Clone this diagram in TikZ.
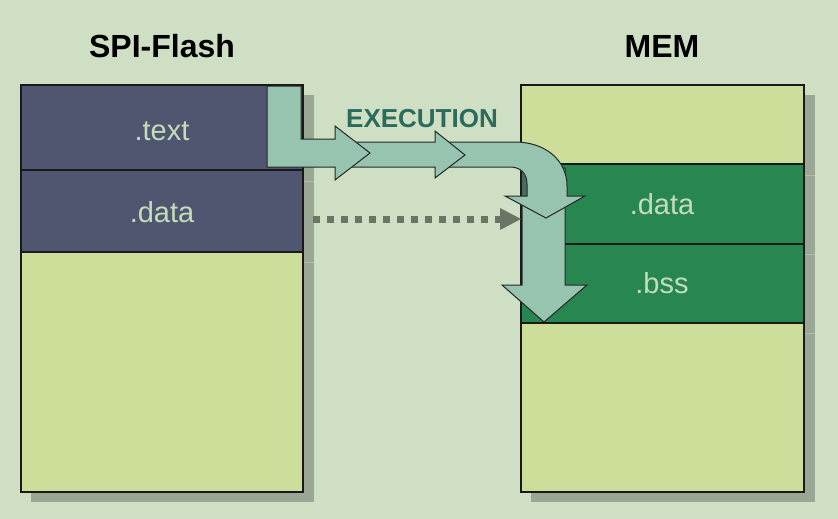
\documentclass[tikz,border=0pt]{standalone}
\usepackage{fontspec}
\setmainfont{Liberation Sans}
\definecolor{bgc}{RGB}{207,223,196}
\definecolor{shadowc}{RGB}{154,167,148}
\definecolor{shadowline}{RGB}{178,190,170}
\definecolor{bluec}{RGB}{80,86,112}
\definecolor{lgc}{RGB}{205,222,154}
\definecolor{dgc}{RGB}{40,134,80}
\definecolor{arrowc}{RGB}{150,196,174}
\definecolor{sidec}{RGB}{70,110,90}
\definecolor{labelc}{RGB}{196,221,185}
\definecolor{execc}{RGB}{44,106,94}
\definecolor{dotc}{RGB}{106,117,101}
\begin{document}
\begin{tikzpicture}[x=1pt,y=-1pt,
  box/.style={draw=black!90, line width=1.2pt, inner sep=0pt, outer sep=0pt, anchor=north west},
  lbl/.style={text=labelc, font=\fontsize{29}{29}\selectfont, anchor=base, inner sep=0pt},
  ttl/.style={font=\bfseries\fontsize{32}{32}\selectfont, anchor=base, inner sep=0pt},
  bigarrow/.style={fill=arrowc, draw=black!85, line width=1pt, line join=miter}]
\useasboundingbox (0,0) rectangle (838,519);
\fill[bgc] (0,0) rectangle (838,519);
% shadows
\fill[shadowc] (31,95) rectangle (314,502);
\fill[shadowc] (531,95) rectangle (815,502);
\foreach \yy in {181,262}{\draw[shadowline, line width=1pt] (304,\yy) -- (314,\yy);}
\foreach \yy in {175,254,333}{\draw[shadowline, line width=1pt] (805,\yy) -- (815,\yy);}
% titles
\node[ttl] (tflash) at (162,58) {SPI-Flash};
\node[ttl] (tmem) at (662,58) {MEM};
% left stack
\node[box, fill=bluec, minimum width=282pt, minimum height=85pt] (ftext) at (21,85) {};
\node[box, fill=bluec, minimum width=282pt, minimum height=82pt] (fdata) at (21,170) {};
\node[box, fill=lgc, minimum width=282pt, minimum height=240pt] (ffree) at (21,252) {};
\node[lbl] (ltext) at (162,140) {.text};
\node[lbl] (ldata) at (162,222) {.data};
% right stack
\node[box, fill=lgc, minimum width=283pt, minimum height=79pt] (mtop) at (521,85) {};
\node[box, fill=dgc, minimum width=283pt, minimum height=80pt] (mdata) at (521,164) {};
\node[box, fill=dgc, minimum width=283pt, minimum height=79pt] (mbss) at (521,244) {};
\node[box, fill=lgc, minimum width=283pt, minimum height=169pt] (mfree) at (521,323) {};
\node[lbl] (rdata) at (662,214) {.data};
\node[lbl] (rbss) at (662,293) {.bss};
% execution label
\node[ttl, text=execc, font=\bfseries\fontsize{26}{26}\selectfont] (exec) at (422,127) {EXECUTION};
% dotted arrow
\coordinate (ds) at (313,219);
\coordinate (de) at (500,219);
\draw[dotc, line width=7pt, dash pattern=on 7pt off 7pt] (ds) -- (de);
\fill[dotc] (de) ++(0,-11) -- ++(21,11) -- ++(-21,11) -- cycle;
% arrow 4 (vertical)
\draw[bigarrow] (522,168) -- (565,168) -- (565,285) -- (587,285) -- (544,322) -- (502,285) -- (522,285) -- cycle;
\fill[sidec] (522.5,172) -- (527,180) -- (527,196) -- (522.5,196) -- cycle;
% arrow 3 (curved)
\draw[bigarrow] (445,142) -- (515,142) .. controls (545,142) and (567,160) .. (567,186) -- (567,196) -- (585,196) -- (546,218) -- (505,196) -- (527,196) -- (527,184) .. controls (527,174) and (521,167) .. (510,167) -- (445,167) -- cycle;
% arrow 2
\draw[bigarrow] (345,142) -- (435,142) -- (435,131) -- (465,155) -- (435,178) -- (435,167) -- (345,167) -- cycle;
% arrow 1 (L shape)
\draw[bigarrow] (267,86) -- (301,86) -- (301,139) -- (335,139) -- (335,126) -- (370,153) -- (335,180) -- (335,167) -- (267,167) -- cycle;
\end{tikzpicture}
\end{document}
